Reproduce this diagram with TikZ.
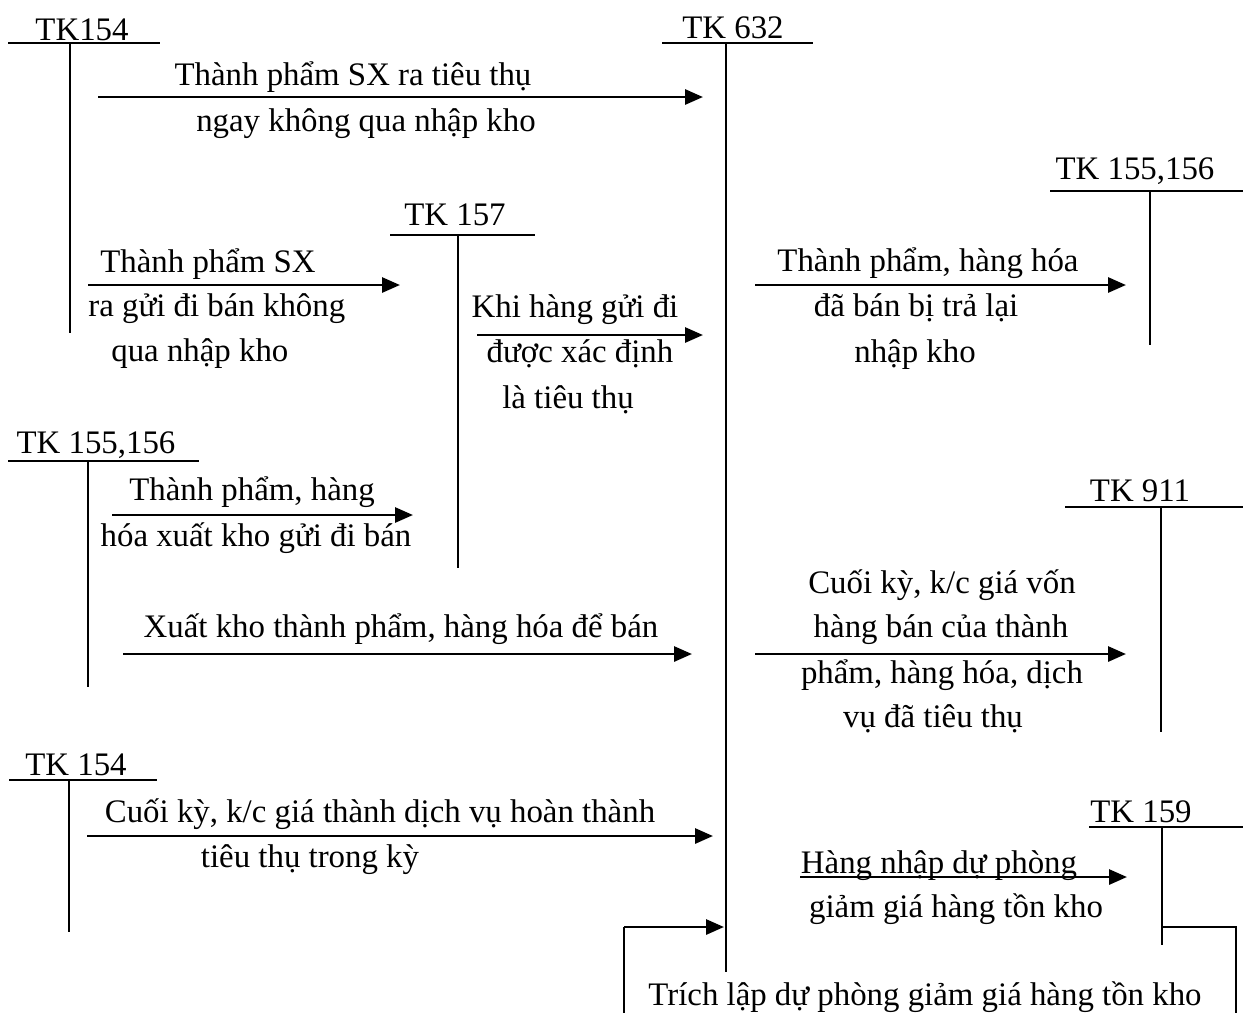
\documentclass[tikz,border=0pt]{standalone}
\usepackage{fontspec}
\setmainfont{Liberation Serif}
\usetikzlibrary{arrows.meta}
\begin{document}
\begin{tikzpicture}[x=0.02cm,y=-0.02cm,
  acc/.style={line width=0.04cm},
  arr/.style={line width=0.058cm,-{Triangle[length=0.36cm,width=0.3cm]}},
  lbl/.style={inner sep=0pt,anchor=base,font=\fontsize{18.7pt}{22pt}\selectfont},
  lblw/.style={lbl,anchor=base west}]
\clip (0,0) rectangle (1243,1012);
\fill[white] (0,0) rectangle (1243,1012);

% ---- T-accounts: title, top bar, vertical stem ----
% TK154 (top left)
\node[lbl] (t154a) at (82,40) {TK154};
\coordinate (b154aL) at (8,43);   \coordinate (b154aR) at (160,43);
\coordinate (s154aT) at (70,43);  \coordinate (s154aB) at (70,333);
\draw[acc] (b154aL) -- (b154aR);  \draw[acc] (s154aT) -- (s154aB);

% TK 632 (central)
\node[lbl] (t632) at (733,38) {TK 632};
\coordinate (b632L) at (662,43);  \coordinate (b632R) at (813,43);
\coordinate (s632T) at (726,43);  \coordinate (s632B) at (726,972);
\draw[acc] (b632L) -- (b632R);    \draw[acc] (s632T) -- (s632B);

% TK 157
\node[lbl] (t157) at (455,225) {TK 157};
\coordinate (b157L) at (390,235); \coordinate (b157R) at (535,235);
\coordinate (s157T) at (458,235); \coordinate (s157B) at (458,568);
\draw[acc] (b157L) -- (b157R);    \draw[acc] (s157T) -- (s157B);

% TK 155,156 (right)
\node[lbl] (t155r) at (1135,179) {TK 155,156};
\coordinate (b155rL) at (1050,191); \coordinate (b155rR) at (1243,191);
\coordinate (s155rT) at (1150,191); \coordinate (s155rB) at (1150,345);
\draw[acc] (b155rL) -- (b155rR);  \draw[acc] (s155rT) -- (s155rB);

% TK 155,156 (left)
\node[lbl] (t155l) at (96,453) {TK 155,156};
\coordinate (b155lL) at (8,461);  \coordinate (b155lR) at (199,461);
\coordinate (s155lT) at (88,461); \coordinate (s155lB) at (88,687);
\draw[acc] (b155lL) -- (b155lR);  \draw[acc] (s155lT) -- (s155lB);

% TK 911
\node[lbl] (t911) at (1140,501) {TK 911};
\coordinate (b911L) at (1065,507); \coordinate (b911R) at (1243,507);
\coordinate (s911T) at (1161,507); \coordinate (s911B) at (1161,732);
\draw[acc] (b911L) -- (b911R);    \draw[acc] (s911T) -- (s911B);

% TK 154 (bottom left)
\node[lbl] (t154b) at (76,775) {TK 154};
\coordinate (b154bL) at (9,780);  \coordinate (b154bR) at (157,780);
\coordinate (s154bT) at (69,780); \coordinate (s154bB) at (69,932);
\draw[acc] (b154bL) -- (b154bR);  \draw[acc] (s154bT) -- (s154bB);

% TK 159
\node[lbl] (t159) at (1141,822) {TK 159};
\coordinate (b159L) at (1089,827); \coordinate (b159R) at (1243,827);
\coordinate (s159T) at (1162,827); \coordinate (s159B) at (1162,945);
\draw[acc] (b159L) -- (b159R);    \draw[acc] (s159T) -- (s159B);

% ---- Postings ----
% 154 -> 632
\coordinate (p1s) at (98,97);  \coordinate (p1e) at (703,97);
\draw[arr] (p1s) -- (p1e);
\node[lbl] (p1a) at (353,85) {Thành phẩm SX ra tiêu thụ};
\node[lbl] (p1b) at (366,131) {ngay không qua nhập kho};

% 154 -> 157
\coordinate (p2s) at (88,285); \coordinate (p2e) at (400,285);
\draw[arr] (p2s) -- (p2e);
\node[lblw] (p2a) at (100,272) {Thành phẩm SX};
\node[lblw] (p2b) at (88,316) {ra gửi đi bán không};
\node[lblw] (p2c) at (111,361) {qua nhập kho};

% 157 -> 632
\coordinate (p3s) at (477,335); \coordinate (p3e) at (703,335);
\draw[arr] (p3s) -- (p3e);
\node[lbl] (p3a) at (575,317) {Khi hàng gửi đi};
\node[lbl] (p3b) at (580,362) {được xác định};
\node[lbl] (p3c) at (568,408) {là tiêu thụ};

% 632 -> 155,156
\coordinate (p4s) at (755,285); \coordinate (p4e) at (1126,285);
\draw[arr] (p4s) -- (p4e);
\node[lbl] (p4a) at (928,271) {Thành phẩm, hàng hóa};
\node[lbl] (p4b) at (916,316) {đã bán bị trả lại};
\node[lbl] (p4c) at (915,362) {nhập kho};

% 155,156 -> 157
\coordinate (p5s) at (112,515); \coordinate (p5e) at (413,515);
\draw[arr] (p5s) -- (p5e);
\node[lbl] (p5a) at (252,500) {Thành phẩm, hàng};
\node[lbl] (p5b) at (256,546) {hóa xuất kho gửi đi bán};

% 155,156 -> 632
\coordinate (p6s) at (123,654); \coordinate (p6e) at (692,654);
\draw[arr] (p6s) -- (p6e);
\node[lbl] (p6a) at (401,637) {Xuất kho thành phẩm, hàng hóa để bán};

% 632 -> 911
\coordinate (p7s) at (755,654); \coordinate (p7e) at (1126,654);
\draw[arr] (p7s) -- (p7e);
\node[lbl] (p7a) at (942,593) {Cuối kỳ, k/c giá vốn};
\node[lbl] (p7b) at (941,637) {hàng bán của thành};
\node[lbl] (p7c) at (942,683) {phẩm, hàng hóa, dịch};
\node[lbl] (p7d) at (933,727) {vụ đã tiêu thụ};

% 154 -> 632
\coordinate (p8s) at (87,836); \coordinate (p8e) at (713,836);
\draw[arr] (p8s) -- (p8e);
\node[lbl] (p8a) at (380,822) {Cuối kỳ, k/c giá thành dịch vụ hoàn thành};
\node[lbl] (p8b) at (310,867) {tiêu thụ trong kỳ};

% 632 -> 159
\coordinate (p9s) at (800,877); \coordinate (p9e) at (1127,877);
\draw[arr] (p9s) -- (p9e);
\node[lbl] (p9a) at (939,873) {Hàng nhập dự phòng};
\node[lbl] (p9b) at (956,917) {giảm giá hàng tồn kho};

% 159 -> 632 (provision)
\coordinate (q1) at (1162,927); \coordinate (q2) at (1236,927);
\coordinate (q3) at (1236,1020);
\coordinate (q4) at (624,1020); \coordinate (q5) at (624,927);
\coordinate (q6) at (724,927);
\draw[acc] (q1) -- (q2) -- (q3);
\draw[acc] (q4) -- (q5);
\draw[arr] (q5) -- (q6);
\node[lbl] (q7) at (925,1005) {Trích lập dự phòng giảm giá hàng tồn kho};
\end{tikzpicture}
\end{document}
